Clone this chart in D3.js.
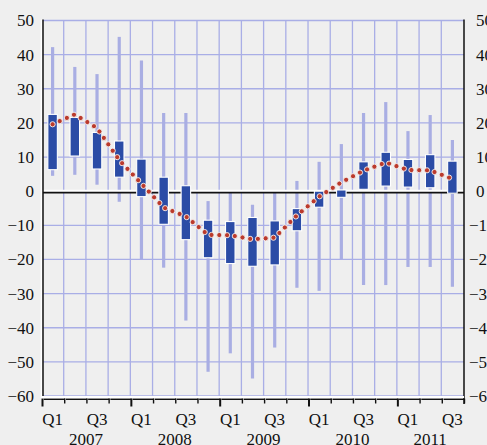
<!DOCTYPE html>
<html><head><meta charset="utf-8">
<script src="https://cdn.jsdelivr.net/npm/d3@7"></script>
<style>
html,body{margin:0;padding:0;background:#efefef;}
svg{display:block;}
</style></head>
<body>
<svg id="c" width="487" height="445"></svg>
<script>
// ---- data ----
const quarters = ["Q1","Q2","Q3","Q4","Q1","Q2","Q3","Q4","Q1","Q2","Q3","Q4","Q1","Q2","Q3","Q4","Q1","Q2","Q3"];
const years = ["2007","2008","2009","2010","2011"];
const boxTop    = [22.5, 21.6, 17.2, 14.7, 9.4, 4.1, 1.6, -8.5, -8.9, -7.7, -8.7, -5.1, 0.0, 0.35, 8.6, 11.4, 9.3, 10.7, 8.8];
const boxBottom = [6.3, 10.3, 6.5, 4.1, -1.6, -9.7, -14.2, -19.5, -21.2, -22.0, -21.6, -11.6, -4.7, -1.8, 0.55, 1.5, 1.2, 1.0, -0.6];
const whiskerTop    = [42.2, 36.4, 34.3, 45.2, 38.3, 22.9, 22.9, -2.9, -0.2, -4.0, 0.0, 3.0, 8.6, 13.8, 22.9, 26.1, 17.6, 22.3, 15.0];
const whiskerBottom = [4.5, 4.8, 1.9, -3.1, -19.9, -22.4, -37.9, -52.9, -47.5, -54.9, -45.8, -28.3, -29.2, -19.9, -27.5, -27.5, -22.2, -22.2, -28.0];
const lineValues = [19.6, 22.5, 18.5, 9.1, 2.2, -4.8, -7.4, -12.8, -12.9, -14.1, -13.6, -7.1, -1.6, 2.6, 6.0, 8.4, 6.2, 6.1, 3.6];
const yTicks = [-60,-50,-40,-30,-20,-10,0,10,20,30,40,50];

// ---- layout ----
const svg = d3.select("#c");
const n = quarters.length;
const x = d3.scaleLinear().domain([0, n]).range([41.5, 463.5]);
const y = d3.scaleLinear().domain([-60, 50]).range([396, 20.5]);
const leftX = 43, rightX = 464;
const FONT = "'Liberation Serif', 'Times New Roman', serif";
const grid = "#a9aee6";

svg.append("rect").attr("width",487).attr("height",445).attr("fill","#efefef");

// horizontal gridlines
svg.append("g").selectAll("line").data(yTicks.filter(d=>d!==0)).join("line")
  .attr("x1", leftX).attr("x2", rightX)
  .attr("y1", d=>y(d)).attr("y2", d=>y(d))
  .attr("stroke", grid).attr("stroke-width", 1.3);
// vertical gridlines
svg.append("g").selectAll("line").data(d3.range(1, n)).join("line")
  .attr("x1", d=>x(d)).attr("x2", d=>x(d))
  .attr("y1", y(50)).attr("y2", y(-60))
  .attr("stroke", grid).attr("stroke-width", 1.3);

// whiskers
svg.append("g").selectAll("line").data(d3.range(n)).join("line")
  .attr("x1", i=>x(i+0.5)).attr("x2", i=>x(i+0.5))
  .attr("y1", i=>y(whiskerTop[i])).attr("y2", i=>y(whiskerBottom[i]))
  .attr("stroke", "#a9aee3").attr("stroke-width", 3.2);

// zero line
svg.append("line").attr("x1", leftX).attr("x2", rightX)
  .attr("y1", y(0)-0.3).attr("y2", y(0)-0.3).attr("stroke","#fff").attr("stroke-width",2.2);
svg.append("line").attr("x1", leftX).attr("x2", rightX)
  .attr("y1", y(0)+1.4).attr("y2", y(0)+1.4).attr("stroke","#111").attr("stroke-width",1.6);

// boxes
const bw = 9.5;
svg.append("g").selectAll("rect").data(d3.range(n)).join("rect")
  .attr("x", i=>x(i+0.5)-bw/2).attr("width", bw)
  .attr("y", i=>y(Math.max(boxTop[i],boxBottom[i])))
  .attr("height", i=>Math.abs(y(boxTop[i])-y(boxBottom[i])))
  .attr("fill", "#2b4ca6").attr("stroke","#ffffff").attr("stroke-width",1.1);

// red dotted line
const pts = lineValues.map((v,i)=>[x(i+0.5), y(v)]);
const path = svg.append("path").attr("d", d3.line()(pts)).attr("fill","none").attr("stroke","none");
const L = path.node().getTotalLength();
const step = 7.8;
const dots = [];
for (let s = 0; s <= L + 0.01; s += step) { const p = path.node().getPointAtLength(Math.min(s, L)); dots.push([p.x, p.y]); }
svg.append("g").selectAll("circle").data(dots).join("circle")
  .attr("cx", d=>d[0]).attr("cy", d=>d[1]).attr("r", 2.6)
  .attr("fill", "#bb3a2c").attr("stroke", "#f4f4f4").attr("stroke-width", 0.9);

// axes
svg.append("line").attr("x1", leftX-1.6).attr("x2", leftX-1.6).attr("y1", y(50)-1).attr("y2", 398)
  .attr("stroke","#fff").attr("stroke-width",1.4);
svg.append("line").attr("x1", leftX).attr("x2", leftX).attr("y1", y(50)-1).attr("y2", 398)
  .attr("stroke","#111").attr("stroke-width",1.5);
svg.append("line").attr("x1", rightX).attr("x2", rightX).attr("y1", y(50)-1).attr("y2", 404)
  .attr("stroke","#111").attr("stroke-width",1.5);

const leftAxis = svg.append("g").attr("transform", `translate(${leftX},0)`)
  .call(d3.axisLeft(y).tickValues(yTicks).tickSize(0).tickPadding(9));
leftAxis.select(".domain").remove();
leftAxis.selectAll("text").attr("font-family", FONT).attr("font-size", 17).attr("fill","#111");

const rightAxis = svg.append("g").attr("transform", `translate(${rightX},0)`)
  .call(d3.axisRight(y).tickValues(yTicks).tickSize(0).tickPadding(12));
rightAxis.select(".domain").remove();
rightAxis.selectAll("text").attr("font-family", FONT).attr("font-size", 17).attr("fill","#111")
  .attr("x", d => d < 0 ? 5 : 12);

// bottom axis
svg.append("line").attr("x1", x(0)).attr("x2", rightX).attr("y1", 397).attr("y2", 397)
  .attr("stroke","#fff").attr("stroke-width",2);
svg.append("g").selectAll("line").data(d3.range(n)).join("line")
  .attr("x1", k=>x(k)+2.2).attr("x2", k=>x(k+1)+1.4).attr("y1", 399.3).attr("y2", 399.3)
  .attr("stroke","#111").attr("stroke-width",1.4);
svg.append("g").selectAll("line").data(d3.range(n+1)).join("line")
  .attr("x1", k=>x(k)+1).attr("x2", k=>x(k)+1)
  .attr("y1", 398.6).attr("y2", k => (k % 4 === 0 && k < n) ? 406.5 : 403.5)
  .attr("stroke","#111").attr("stroke-width", k => (k % 4 === 0 && k < n) ? 2 : 1.4);

// quarter labels
svg.append("g").selectAll("text").data(d3.range(n).filter(i => quarters[i]==="Q1" || quarters[i]==="Q3")).join("text")
  .attr("x", i=>x(i+0.5)).attr("y", 425).attr("text-anchor","middle")
  .attr("font-family", FONT).attr("font-size", 17).attr("fill","#111")
  .text(i=>quarters[i]);
// year labels
svg.append("g").selectAll("text").data(years).join("text")
  .attr("x", (d,j)=>{ const s = j*4, e = Math.min(n, s+4); return x((s+e)/2); })
  .attr("y", 445).attr("text-anchor","middle")
  .attr("font-family", FONT).attr("font-size", 17).attr("fill","#111")
  .text(d=>d);
</script>
</body></html>
